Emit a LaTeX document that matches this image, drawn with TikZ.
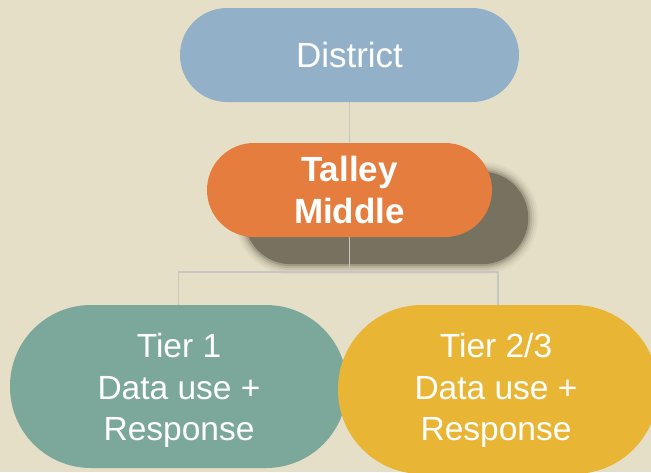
\documentclass[tikz,border=0pt]{standalone}
\usepackage{fontspec}
\setmainfont{Liberation Sans}
\definecolor{bgc}{HTML}{E6DFC7}
\definecolor{districtc}{HTML}{92B0C8}
\definecolor{talleyc}{HTML}{E47D3E}
\definecolor{tieronec}{HTML}{7BA89B}
\definecolor{tiertwoc}{HTML}{E8B534}
\definecolor{linec}{HTML}{C6C6C4}
\definecolor{shadowc}{HTML}{77725F}
\pgfdeclarelayer{bglayer}
\pgfdeclarelayer{shadowlayer}
\pgfdeclarelayer{linelayer}
\pgfsetlayers{bglayer,shadowlayer,linelayer,main}
\begin{document}
\begin{tikzpicture}[x=1pt,y=-1pt,
  pill/.style={draw=none,text=white,align=center,inner sep=0pt},
  conn/.style={draw=linec,line width=1.6pt},
  bigtext/.style={font=\fontsize{35}{42}\selectfont},
  tiertext/.style={text=white,align=center,inner sep=0pt,font=\fontsize{33.5}{41.5}\selectfont}]
\useasboundingbox (0,0) rectangle (651,472);
\begin{pgfonlayer}{bglayer}
\fill[bgc] (0,0) rectangle (651,472);
\end{pgfonlayer}
\clip (0,0) rectangle (651,472);

\node[pill,bigtext,fill=districtc,minimum width=339pt,minimum height=94pt,rounded corners=47pt] (district) at (349.5,55) {District};
\node[pill,bigtext,fill=talleyc,minimum width=285pt,minimum height=94pt,rounded corners=47pt] (talley) at (349.5,190) {\bfseries Talley\\\bfseries Middle};
\node[pill,fill=tieronec,minimum width=337pt,minimum height=163pt,rounded corners=81pt] (tier1) at (178.5,386.5) {};
\node[pill,fill=tiertwoc,minimum width=320pt,minimum height=169pt,rounded corners=84pt] (tier2) at (498,389.5) {};
\node[tiertext] (t1text) at (179,390.5) {Tier 1\\Data use +\\Response};
\node[tiertext] (t2text) at (496,390.5) {Tier 2/3\\Data use +\\Response};

\begin{pgfonlayer}{shadowlayer}
\foreach \e/\r/\o in {9/56/0.06,7/54/0.08,5/52/0.12,3/50/0.2,1/48/0.35,-1/46/1}{
  \fill[shadowc,opacity=\o,rounded corners=\r pt]
    ([shift={(37-\e,28+\e)}]talley.south west) rectangle ([shift={(37+\e,28-\e)}]talley.north east);
}
\end{pgfonlayer}

\begin{pgfonlayer}{linelayer}
\coordinate (hl) at (350,272);
\draw[conn] (district.south) -- (talley.north);
\draw[conn] (talley.south) -- (talley.south |- hl);
\draw[conn] (tier1.north) -- (tier1.north |- hl) -- (tier2.north |- hl) -- (tier2.north);
\end{pgfonlayer}
\end{tikzpicture}
\end{document}
